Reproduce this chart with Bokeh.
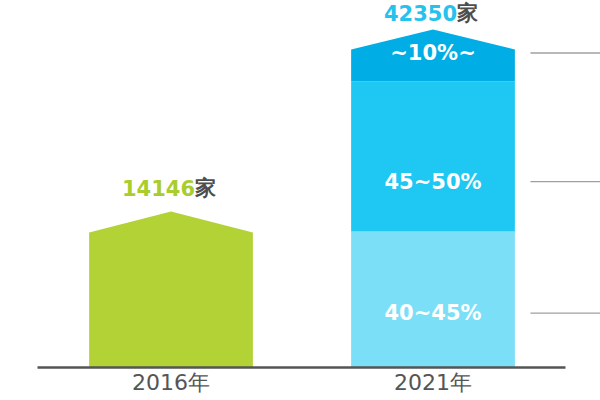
from bokeh.plotting import figure
from bokeh.models import Range1d, FixedTicker, LinearAxis
from bokeh.core.properties import value
from bokeh.embed import file_html
from bokeh.resources import INLINE

# ---- data ----
categories = ["2016年", "2021年"]
totals = [14146, 42350]
unit = "家"
total_colors = ["#A9CD2C", "#25C2EE"]

# 2016: single bar (display height units)
body_2016 = 135
cap_2016 = 21
color_2016 = "#B2D235"

# 2021: stacked segments
seg_labels = ["40~45%", "45~50%", "~10%~"]
seg_heights = [136, 150, 32]
seg_colors = ["#7BDFF7", "#1EC8F2", "#00AEE5"]
seg_label_frac = [0.40, 0.333, 0.89]
cap_2021 = 20

W = 0.625
FONT = value("DejaVu Sans")

p = figure(width=600, height=400, output_backend="svg", toolbar_location=None,
           x_range=Range1d(-0.6508, 1.6393), y_range=Range1d(-33, 367),
           x_axis_location=None, y_axis_location=None, min_border=0,
           background_fill_color="white")
p.outline_line_color = None
p.grid.visible = False

# 2016 pentagon bar
x0 = 0
p.patches(xs=[[x0 - W / 2, x0 - W / 2, x0, x0 + W / 2, x0 + W / 2]],
          ys=[[0, body_2016, body_2016 + cap_2016, body_2016, 0]],
          fill_color=color_2016, line_color=None)

# 2021 stacked bar
x1 = 1
bottoms = [sum(seg_heights[:i]) for i in range(len(seg_heights))]
tops = [b + h for b, h in zip(bottoms, seg_heights)]
p.vbar(x=[x1, x1], bottom=bottoms[:2], top=tops[:2], width=W,
       fill_color=seg_colors[:2], line_color=None)
p.patches(xs=[[x1 - W / 2, x1 - W / 2, x1, x1 + W / 2, x1 + W / 2]],
          ys=[[bottoms[2], tops[2], tops[2] + cap_2021, tops[2], bottoms[2]]],
          fill_color=seg_colors[2], line_color=None)

# segment labels and leader lines
label_y = [b + h * f for b, h, f in zip(bottoms, seg_heights, seg_label_frac)]
p.text(x=[x1] * 3, y=label_y, text=seg_labels, text_align="center",
       text_baseline="middle", text_color="white", text_font=FONT,
       text_font_style="bold", text_font_size="21px")
p.segment(x0=[1.372] * 3, x1=[1.7] * 3, y0=label_y, y1=label_y,
          line_color="#a0a0a0", line_width=1.3)

# totals
peaks = [body_2016 + cap_2016, tops[2] + cap_2021]
gaps = [24, 17]
total_y = [pk + g for pk, g in zip(peaks, gaps)]
p.text(x=[x0, x1], y=total_y, text=[str(t) for t in totals],
       text_align="right", text_baseline="middle", x_offset=24,
       text_color=total_colors, text_font=FONT, text_font_style="bold",
       text_font_size="21px")
p.text(x=[x0, x1], y=total_y, text=[unit, unit],
       text_align="left", text_baseline="middle", x_offset=24,
       text_color="#4d4d4d", text_font=FONT, text_font_style="bold",
       text_font_size="21px")

# x axis at the baseline
ax = LinearAxis(fixed_location=0)
ax.ticker = FixedTicker(ticks=[0, 1])
ax.major_label_overrides = {0: categories[0], 1: categories[1]}
ax.bounds = (-0.5095, 1.506)
ax.axis_line_color = "#555555"
ax.axis_line_width = 2.5
ax.major_tick_line_color = None
ax.major_tick_out = 0
ax.minor_tick_line_color = None
ax.minor_tick_out = 0
ax.major_label_standoff = 2
ax.major_label_text_font = "DejaVu Sans"
ax.major_label_text_font_size = "22px"
ax.major_label_text_color = "#555555"
p.add_layout(ax, "below")

open("out.html", "w").write(file_html(p, INLINE))
